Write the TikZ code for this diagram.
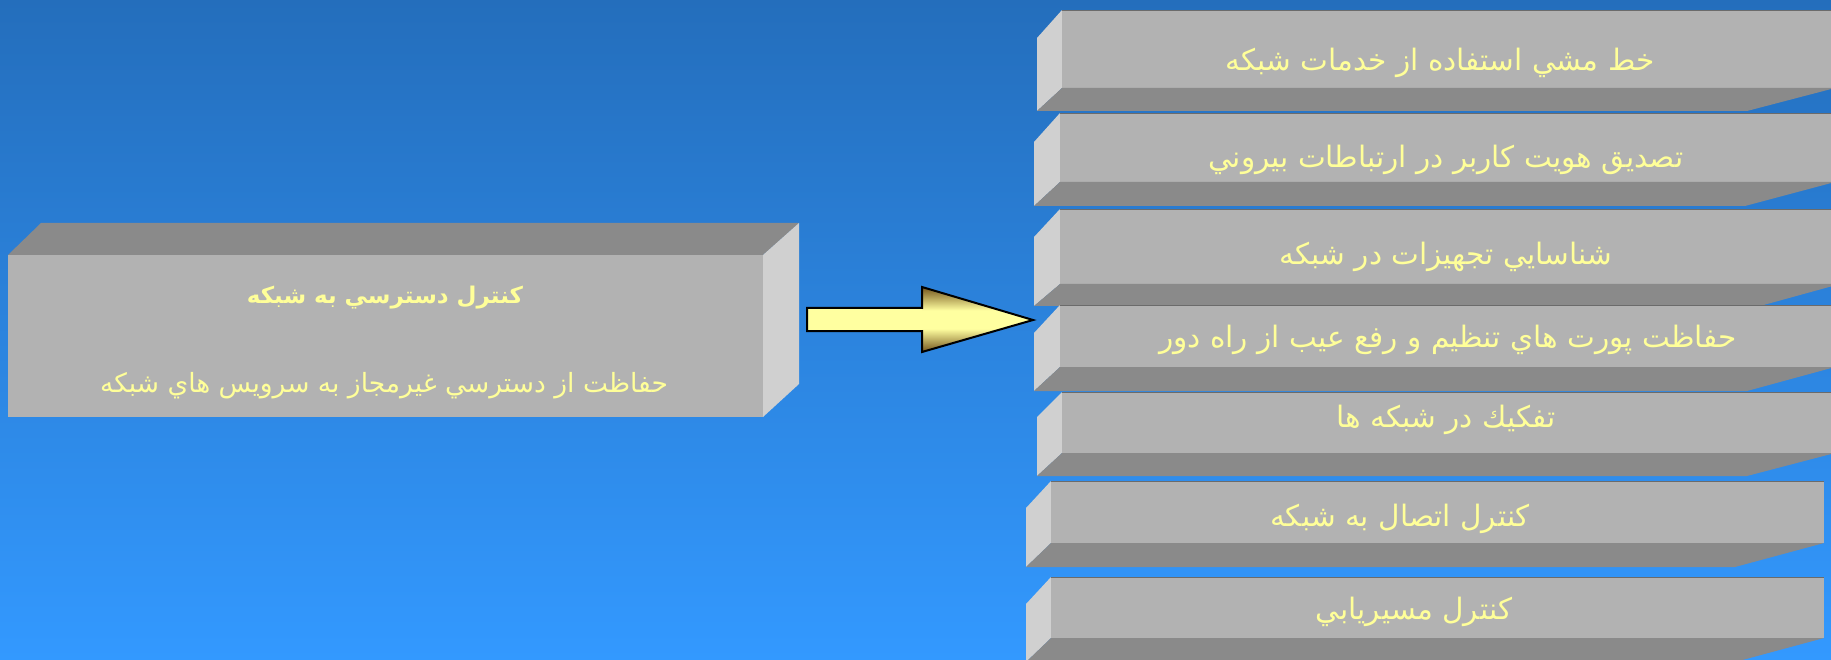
\documentclass[tikz,border=0pt]{standalone}
\usepackage{fontspec}
\newfontfamily\arabicfont[Script=Arabic]{DejaVu Sans}
\TeXXeTstate=1
\definecolor{bgtop}{RGB}{36,110,188}
\definecolor{bgbot}{RGB}{51,153,255}
\definecolor{frontgray}{RGB}{178,178,178}
\definecolor{sidegray}{RGB}{208,208,208}
\definecolor{undergray}{RGB}{138,138,138}
\definecolor{txtyellow}{RGB}{255,255,153}
\definecolor{arrowyellow}{RGB}{255,255,160}
\definecolor{arrowbrown}{RGB}{115,84,28}
% arrow head: dark rim at top and bottom, pale yellow through the middle
\pgfdeclareverticalshading{headshade}{100bp}{%
  color(0bp)=(arrowbrown); color(25bp)=(arrowbrown);
  color(43bp)=(arrowyellow); color(57bp)=(arrowyellow);
  color(75bp)=(arrowbrown); color(100bp)=(arrowbrown)}
\tikzset{
  label txt/.style={text=txtyellow, inner sep=0pt,
    font=\arabicfont\fontsize{29.5}{34}\selectfont},
  sub txt/.style={label txt, font=\arabicfont\fontsize{26.5}{31}\selectfont},
  title txt/.style={label txt, font=\arabicfont\bfseries\fontsize{23}{28}\selectfont},
}
% one slab seen from the lower left: left face, front face, underside
% #1 front-left x, #2 back-left x, #3 front top y, #4 left-face top y,
% #5 front bottom y, #6 back bottom y, #7 front-right x, #8 back-right x
\newcommand\slab[8]{%
  \fill[sidegray] (#1,#3) -- (#2,#4) -- (#2,#6) -- (#1,#5) -- cycle;
  \fill[frontgray] (#1,#3) rectangle (#7,#5);
  \draw[black!40!frontgray, line width=1pt] (#1,#3+0.5) -- (#7,#3+0.5);
  \fill[undergray] (#1,#5) -- (#7,#5) -- (#8,#6) -- (#2,#6) -- cycle;
}
\begin{document}
\begin{tikzpicture}[x=1pt,y=-1pt]
\useasboundingbox (0,0) rectangle (1831,660);
\clip (0,0) rectangle (1831,660);
% background
\shade[top color=bgtop, bottom color=bgbot] (0,0) rectangle (1831,660);

% main block on the left
\fill[undergray] (8,255) -- (41,223) -- (799,223) -- (763,255) -- cycle;
\fill[sidegray] (763,255) -- (799,223) -- (799,384) -- (763,417) -- cycle;
\fill[frontgray] (8,255) rectangle (763,417);
\node[title txt] (title) at (385,298) {\beginR کنترل دسترسي به شبکه\endR};
\node[sub txt] (sub) at (384,386) {\beginR حفاظت از دسترسي غيرمجاز به سرويس هاي شبکه\endR};

% stacked slabs on the right
\slab{1062}{1037}{10}{38}{88}{111}{1835}{1747}
\slab{1060}{1034}{113}{142}{182}{206}{1835}{1745}
\slab{1060}{1034}{209}{237}{284}{306}{1840}{1760}
\slab{1060}{1034}{305}{333}{367}{391}{1835}{1747}
\slab{1062}{1037}{392}{417}{453}{476}{1835}{1747}
\slab{1051}{1026}{481}{508}{543}{567}{1824}{1735}
\slab{1051}{1026}{577}{604}{638}{662}{1824}{1735}

\node[label txt] (r1) at (1440,63) {\beginR خط مشي استفاده از خدمات شبکه\endR};
\node[label txt] (r2) at (1446,160) {\beginR تصديق هويت کاربر در ارتباطات بيروني\endR};
\node[label txt] (r3) at (1446,257) {\beginR شناسايي تجهيزات در شبکه\endR};
\node[label txt] (r4) at (1448,340) {\beginR حفاظت پورت هاي تنظيم و رفع عيب از راه دور\endR};
\node[label txt] (r5) at (1446,420) {\beginR تفکيك در شبکه ها\endR};
\node[label txt] (r6) at (1400,519) {\beginR کنترل اتصال به شبکه\endR};
\node[label txt] (r7) at (1414,612) {\beginR کنترل مسيريابي\endR};

% block arrow between them
\coordinate (tail) at (807,319.5);
\coordinate (tip) at (1033,320);
\fill[arrowyellow] (807,308) rectangle (923,331);
\shade[shading=headshade] (922,287) -- (tip) -- (922,352) -- cycle;
\draw[black, line width=2pt, line join=miter]
  (807,308) -- (922,308) -- (922,287) -- (tip) -- (922,352) -- (922,331) -- (807,331) -- cycle;
\end{tikzpicture}
\end{document}
